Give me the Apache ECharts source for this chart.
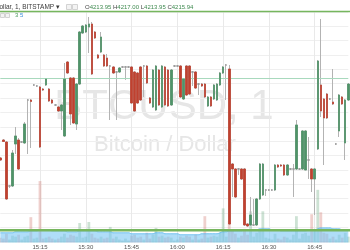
<!DOCTYPE html>
<html><head><meta charset="utf-8">
<script src="https://cdn.jsdelivr.net/npm/echarts@6/dist/echarts.min.js"></script>
<style>html,body{margin:0;padding:0;background:#fff}#c{width:350px;height:250px}</style>
</head><body><div id="c"></div>
<script>
const times = ["15:02","15:03","15:04","15:05","15:06","15:07","15:08","15:09","15:10","15:11","15:12","15:13","15:14","15:15","15:16","15:17","15:18","15:19","15:20","15:21","15:22","15:23","15:24","15:25","15:26","15:27","15:28","15:29","15:30","15:31","15:32","15:33","15:34","15:35","15:36","15:37","15:38","15:39","15:40","15:41","15:42","15:43","15:44","15:45","15:46","15:47","15:48","15:49","15:50","15:51","15:52","15:53","15:54","15:55","15:56","15:57","15:58","15:59","16:00","16:01","16:02","16:03","16:04","16:05","16:06","16:07","16:08","16:09","16:10","16:11","16:12","16:13","16:14","16:15","16:16","16:17","16:18","16:19","16:20","16:21","16:22","16:23","16:24","16:25","16:26","16:27","16:28","16:29","16:30","16:31","16:32","16:33","16:34","16:35","16:36","16:37","16:38","16:39","16:40","16:41","16:42","16:43","16:44","16:45","16:46","16:47","16:48","16:49","16:50","16:51","16:52","16:53","16:54","16:55","16:56"];
const tickLabels = ["15:15","15:30","15:45","16:00","16:15","16:30","16:45"];
const open = [4189.11,4195.38,4194.69,4179.36,4179.36,4193.99,4195.38,4194.69,4194.34,4209.32,4209.32,4214.55,4214.20,4213.85,4213.15,4214.55,4213.15,4209.32,4207.58,4206.88,4205.49,4196.78,4222.56,4216.98,4216.98,4200.96,4214.89,4232.66,4233.01,4234.75,4235.80,4233.01,4225.00,4226.04,4225.00,4223.95,4221.17,4220.82,4219.08,4219.08,4220.82,4220.82,4220.82,4220.82,4219.08,4218.73,4220.82,4221.17,4221.17,4210.02,4206.88,4205.84,4219.77,4206.88,4220.82,4219.77,4207.58,4221.17,4221.17,4221.17,4209.67,4221.17,4221.17,4219.08,4219.08,4214.89,4214.89,4214.89,4207.23,4210.37,4209.67,4209.32,4214.55,4218.73,4221.51,4220.12,4187.02,4185.28,4185.28,4185.28,4185.28,4166.12,4165.77,4165.77,4165.77,4174.83,4176.22,4177.96,4177.96,4177.96,4177.96,4186.67,4186.67,4186.67,4183.19,4185.28,4185.28,4185.28,4185.28,4185.28,4184.93,4188.42,4185.28,4181.80,4192.25,4214.55,4209.67,4211.41,4209.67,4208.62,4193.99,4198.52,4210.37,4194.34,4209.32];
const close = [4188.42,4194.86,4174.83,4179.36,4190.85,4196.78,4185.28,4194.69,4200.96,4209.32,4208.80,4214.55,4214.20,4192.95,4212.80,4216.64,4208.97,4208.27,4207.58,4205.49,4207.58,4216.64,4218.73,4204.44,4201.31,4214.89,4233.01,4235.10,4235.45,4235.80,4218.38,4230.92,4223.95,4231.27,4221.17,4221.17,4221.17,4218.73,4219.08,4220.47,4220.82,4220.82,4220.82,4208.27,4205.49,4208.27,4209.32,4221.17,4215.24,4208.27,4219.77,4221.17,4207.58,4221.17,4207.58,4207.23,4219.77,4221.17,4221.17,4210.37,4216.64,4211.06,4211.41,4219.08,4213.50,4214.89,4214.20,4210.37,4210.37,4207.23,4214.55,4214.89,4218.73,4220.82,4221.51,4166.12,4185.28,4175.53,4185.28,4181.80,4165.77,4165.42,4169.25,4165.77,4174.83,4187.02,4187.02,4177.96,4177.96,4177.96,4186.67,4185.98,4186.33,4183.19,4186.67,4185.28,4185.28,4200.61,4185.28,4198.52,4198.52,4188.42,4181.80,4185.28,4222.91,4205.49,4203.05,4203.05,4209.67,4207.93,4193.99,4211.06,4207.93,4209.32,4214.89];
const low = [4188.07,4194.69,4174.48,4178.66,4179.01,4190.51,4184.93,4194.34,4193.99,4190.51,4192.60,4214.20,4213.85,4192.60,4212.46,4214.20,4208.62,4207.93,4207.23,4205.14,4198.87,4196.43,4218.38,4200.61,4200.96,4198.87,4214.55,4232.31,4232.66,4225.69,4218.03,4230.57,4223.60,4225.69,4220.82,4220.82,4202.35,4218.38,4202.35,4218.73,4220.47,4216.29,4220.47,4207.93,4205.14,4207.93,4208.97,4210.37,4214.89,4207.93,4206.53,4205.49,4207.23,4206.53,4207.23,4206.88,4207.23,4220.82,4220.82,4210.02,4209.32,4210.71,4211.06,4214.20,4213.15,4211.06,4213.85,4210.02,4206.88,4206.88,4209.32,4208.97,4214.20,4218.38,4209.32,4165.77,4175.53,4175.18,4183.19,4181.45,4165.42,4165.07,4165.42,4165.42,4165.42,4174.48,4175.87,4175.87,4177.62,4177.62,4177.62,4185.63,4185.98,4182.84,4182.84,4184.93,4175.53,4184.93,4184.93,4184.93,4184.93,4181.80,4177.27,4169.25,4191.90,4203.40,4186.67,4202.70,4209.32,4207.58,4193.64,4196.43,4207.58,4188.42,4208.97];
const high = [4189.46,4195.73,4195.04,4179.71,4191.90,4199.91,4196.08,4195.04,4201.66,4209.67,4209.67,4214.89,4214.55,4214.20,4213.50,4216.98,4213.50,4209.67,4207.93,4207.23,4207.93,4222.21,4222.91,4217.33,4217.33,4215.24,4233.36,4235.45,4235.80,4238.24,4236.50,4233.36,4225.35,4233.01,4225.35,4225.35,4221.51,4221.17,4219.42,4220.82,4221.17,4221.17,4221.17,4221.17,4219.42,4219.08,4221.17,4221.51,4221.51,4210.37,4220.12,4221.51,4220.12,4221.51,4221.17,4220.12,4220.12,4221.51,4221.51,4221.51,4216.98,4221.51,4221.51,4219.42,4219.42,4215.24,4215.24,4215.24,4210.71,4210.71,4214.89,4215.24,4219.08,4221.17,4221.86,4221.51,4187.37,4185.63,4185.63,4185.63,4185.63,4166.47,4175.53,4174.83,4175.18,4187.37,4187.37,4178.31,4178.31,4178.31,4187.02,4187.02,4187.02,4187.02,4187.02,4185.63,4187.02,4202.35,4185.63,4198.87,4198.87,4196.43,4185.63,4185.63,4223.26,4237.54,4210.02,4211.76,4210.02,4220.12,4194.34,4211.41,4210.71,4209.67,4215.24];
const volume = [5,4,9,3,7,6,8,3,6,7,26,4,5,63,4,5,6,4,3,4,6,9,5,8,7,6,20,5,6,21,9,5,4,6,4,5,16,4,6,3,2,4,2,7,8,5,6,3,10,4,8,15,6,7,5,6,5,2,3,6,5,7,6,3,8,3,4,27,5,6,7,6,10,35,6,22,12,9,5,7,14,8,32,6,10,12,32,5,4,3,9,4,3,6,5,3,8,27,4,9,10,7,29,12,54,31,10,9,4,6,3,8,5,10,6];
const volumeMA = [10,10,10,10,10,11,11,11,11,11,12,12,12,13,13,13,13,12,12,12,12,12,11,11,11,11,12,12,12,12,12,12,11,11,11,11,11,10,10,10,10,10,10,9,9,9,9,9,9,9,9,10,10,10,9,9,9,9,9,8,8,8,8,8,8,8,9,9,9,9,9,9,10,11,11,12,12,12,12,12,13,13,13,13,13,14,14,14,14,13,13,13,12,12,12,12,12,12,12,12,12,13,13,13,14,15,15,15,15,14,14,14,13,13,13];
const priceLine = 4216.98;
const symbolTitle = "Bitcoin / U.S. Dollar, 1, BITSTAMP ▾";
const ohlcLabels = ["O","H","L","C"];
const ohlcValues = ["4213.95","4217.00","4213.95","4215.94"];
const indicatorValues = ["3","5"];
const watermark1 = "BTCUSD, 1";
const watermark2 = "Bitcoin / Dollar";

const UP = '#4f9468', DOWN = '#c0412f', WICK = '#b3b3b3';
const tickIdx = tickLabels.map(t => times.indexOf(t));
const ohlc = open.map((o, i) => [o, close[i], low[i], high[i]]);
const bodies = open.map((o, i) => [o, close[i], Math.min(o, close[i]), Math.max(o, close[i])]);
const volData = volume.map((v, i) => ({
  value: v,
  itemStyle: { color: close[i] >= open[i] ? 'rgba(107,170,130,0.34)' : 'rgba(205,110,100,0.32)' }
}));
const FONT = 'Liberation Sans, Arial, sans-serif';

const chart = echarts.init(document.getElementById('c'), null, { renderer: 'canvas' });
const catAxisBase = {
  type: 'category', data: times, boundaryGap: false,
  axisLine: { show: false }, axisTick: { show: false }
};
chart.setOption({
  animation: false,
  backgroundColor: '#ffffff',
  grid: [
    { left: 0.32, right: 1.7, top: 11.95, bottom: 8.45 },
    { left: 0.32, right: 1.7, top: 145, bottom: 5 }
  ],
  xAxis: [
    Object.assign({}, catAxisBase, {
      gridIndex: 0, axisLabel: { show: false },
      splitLine: { show: true, interval: (i) => tickIdx.includes(i), lineStyle: { color: '#e9e9e9', width: 1 } }
    }),
    Object.assign({}, catAxisBase, {
      gridIndex: 1,
      axisLabel: { show: true, interval: (i) => tickIdx.includes(i), fontSize: 6, color: '#555', margin: 1.5, fontFamily: FONT },
      splitLine: { show: false }
    })
  ],
  yAxis: [
    { type: 'value', gridIndex: 0, min: 4160, max: 4240, interval: 5, position: 'right',
      axisLine: { show: false }, axisTick: { show: false }, axisLabel: { show: false },
      splitLine: { show: true, lineStyle: { color: '#efefef', width: 1 } } },
    { type: 'value', gridIndex: 1, min: 0, max: 100, show: false, splitLine: { show: false } }
  ],
  graphic: [
    { type: 'text', z: 0, x: 164, y: 107, silent: true,
      style: { text: watermark1, fill: '#e6e6e6', fontSize: 42, fontFamily: FONT, align: 'center', verticalAlign: 'middle' } },
    { type: 'text', z: 0, x: 165, y: 145, silent: true,
      style: { text: watermark2, fill: '#e6e6e6', fontSize: 22, fontFamily: FONT, align: 'center', verticalAlign: 'middle' } },
    { type: 'text', z: 100, x: 60, y: 7, silent: true,
      style: { text: symbolTitle, fill: '#3a3a3a', fontSize: 6.5, fontFamily: FONT, align: 'right', verticalAlign: 'middle' } },
    { type: 'rect', z: 100, shape: { x: 66.5, y: 4.5, width: 5, height: 5 }, style: { fill: '#f3f3f3', stroke: '#c9c9c9', lineWidth: 0.8 } },
    { type: 'rect', z: 100, shape: { x: 72.5, y: 4.5, width: 5, height: 5 }, style: { fill: '#f3f3f3', stroke: '#c9c9c9', lineWidth: 0.8 } },
    { type: 'text', z: 100, x: 85, y: 7, silent: true,
      style: {
        text: ohlcLabels.map((l, i) => '{l|' + l + '}{v|' + ohlcValues[i] + '}').join(' '),
        fontSize: 6, fontFamily: FONT, verticalAlign: 'middle',
        rich: { l: { fill: '#444', fontSize: 6, fontFamily: FONT }, v: { fill: '#3f8a50', fontSize: 6, fontFamily: FONT } }
      } },
    { type: 'rect', z: 100, shape: { x: 0.5, y: 13.5, width: 4, height: 4 }, style: { fill: '#f3f3f3', stroke: '#c9c9c9', lineWidth: 0.8 } },
    { type: 'rect', z: 100, shape: { x: 5.5, y: 13.5, width: 4, height: 4 }, style: { fill: '#f3f3f3', stroke: '#c9c9c9', lineWidth: 0.8 } },
    { type: 'text', z: 100, x: 15, y: 15.5, silent: true,
      style: { text: '{a|' + indicatorValues[0] + '} {b|' + indicatorValues[1] + '}', fontSize: 6, fontFamily: FONT, verticalAlign: 'middle',
        rich: { a: { fill: '#4f9a5f', fontSize: 6, fontFamily: FONT }, b: { fill: '#3b8ed8', fontSize: 6, fontFamily: FONT } } } },
    { type: 'line', z: 100, silent: true, shape: { x1: 0, y1: 11.6, x2: 350, y2: 11.6 }, style: { stroke: '#76b65e', lineWidth: 1.5 } },
    { type: 'line', z: 100, silent: true, shape: { x1: 0, y1: 230.3, x2: 350, y2: 230.3 }, style: { stroke: '#76b65e', lineWidth: 2.6 } }
  ],
  series: [
    { type: 'bar', xAxisIndex: 1, yAxisIndex: 1, data: volData, barWidth: 2.8, clip: false, z: 2, silent: true },
    { type: 'line', xAxisIndex: 1, yAxisIndex: 1, data: volumeMA, showSymbol: false, smooth: true, silent: true, z: 3,
      lineStyle: { width: 1, color: 'rgba(95,185,238,0.9)' }, areaStyle: { color: 'rgba(115,195,242,0.82)', origin: 'start' } },
    { type: 'candlestick', xAxisIndex: 0, yAxisIndex: 0, data: ohlc, barWidth: 2, clip: false, z: 4, silent: true,
      itemStyle: { color: 'rgba(0,0,0,0)', color0: 'rgba(0,0,0,0)', borderColor: WICK, borderColor0: WICK, borderColorDoji: WICK, borderWidth: 1 } },
    { type: 'candlestick', xAxisIndex: 0, yAxisIndex: 0, data: bodies, barWidth: 2, clip: false, z: 5, silent: true,
      itemStyle: { color: UP, color0: DOWN, borderColor: UP, borderColor0: DOWN, borderColorDoji: '#8f8f8f', borderWidth: 0.7 },
      markLine: { silent: true, symbol: ['none', 'none'], label: { show: false },
        lineStyle: { color: '#a8d9bd', width: 1, type: 'solid' }, data: [{ yAxis: priceLine }] } }
  ]
});
</script>
</body></html>
